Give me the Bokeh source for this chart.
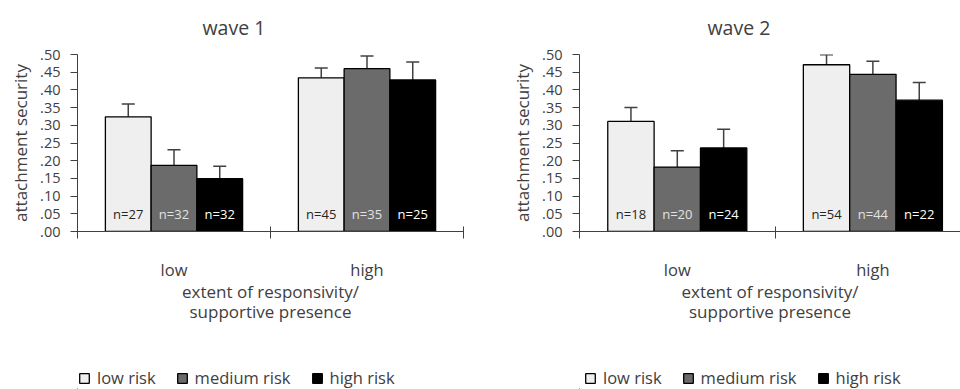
from bokeh.plotting import figure
from bokeh.models import (Range1d, FixedTicker, LinearAxis, ColumnDataSource,
                          Whisker, TeeHead, Legend, LegendItem)
from bokeh.layouts import row, column
from bokeh.embed import file_html
from bokeh.resources import INLINE
from bokeh.core.properties import value

# ---------------- data ----------------
categories = ["low", "high"]                 # extent of responsivity
risk_groups = ["low risk", "medium risk", "high risk"]
wave_titles = ["wave 1", "wave 2"]

# wave 1: mean attachment security per category (low, high)
w1_low_risk = [0.324, 0.434]
w1_medium_risk = [0.187, 0.460]
w1_high_risk = [0.149, 0.428]
# wave 1: upper end of error bars
w1_low_risk_upper = [0.360, 0.462]
w1_medium_risk_upper = [0.231, 0.496]
w1_high_risk_upper = [0.184, 0.479]
# wave 1: group sizes
w1_low_risk_n = [27, 45]
w1_medium_risk_n = [32, 35]
w1_high_risk_n = [32, 25]

# wave 2
w2_low_risk = [0.311, 0.471]
w2_medium_risk = [0.182, 0.444]
w2_high_risk = [0.236, 0.371]
w2_low_risk_upper = [0.350, 0.499]
w2_medium_risk_upper = [0.228, 0.481]
w2_high_risk_upper = [0.289, 0.421]
w2_low_risk_n = [18, 54]
w2_medium_risk_n = [20, 44]
w2_high_risk_n = [24, 22]

ytick_values = [0, 0.05, 0.1, 0.15, 0.2, 0.25, 0.3, 0.35, 0.4, 0.45, 0.5]
ytick_labels = [".00", ".05", ".10", ".15", ".20", ".25", ".30", ".35", ".40", ".45", ".50"]
xlabel = "extent of responsivity/\nsupportive presence"
ylabel = "attachment security"

# ---------------- style ----------------
FONT = "Open Sans"
TXT = "#404040"
fills = ["#efefef", "#6b6b6b", "#000000"]
ncolors = ["#262626", "#e2e2e2", "#ffffff"]
bar_w = 0.237
offsets = [-0.237, 0.0, 0.237]
MAIN_H = 366
LEG_H = 23


def make_panel(title, means, uppers, ns, width, b_left, b_right, x_end,
               title_offset):
    p = figure(width=width, height=MAIN_H, x_range=Range1d(0, x_end),
               y_range=Range1d(0, 0.5), output_backend="svg",
               toolbar_location=None, min_border_left=b_left,
               min_border_right=b_right, min_border_top=54,
               min_border_bottom=MAIN_H - 231)
    p.outline_line_color = None
    p.xgrid.visible = False
    p.ygrid.visible = False

    # title
    p.title.text = title
    p.title.align = "left"
    p.title.vertical_align = "top"
    p.title.offset = title_offset
    p.title.standoff = 24
    p.title.text_font = FONT
    p.title.text_font_size = "19.5px"
    p.title.text_font_style = "normal"
    p.title.text_color = TXT

    # y axis
    ya = p.yaxis[0]
    ya.ticker = FixedTicker(ticks=ytick_values)
    ya.major_label_overrides = {v: l for v, l in zip(ytick_values, ytick_labels)}
    ya.major_tick_out = 7
    ya.major_tick_in = 0
    ya.minor_tick_line_color = None
    ya.major_label_standoff = 10
    ya.major_label_text_font = FONT
    ya.major_label_text_font_size = "14.5px"
    ya.major_label_text_color = TXT
    ya.axis_line_color = "#404040"
    ya.major_tick_line_color = "#404040"
    ya.axis_label = ylabel
    ya.axis_label_text_font = FONT
    ya.axis_label_text_font_size = "17px"
    ya.axis_label_text_font_style = "normal"
    ya.axis_label_text_color = TXT
    ya.axis_label_standoff = 5

    # x axis with crossing ticks at category boundaries
    xa = p.xaxis[0]
    xa.ticker = FixedTicker(ticks=[0, 1, 2])
    xa.major_label_overrides = {0: "", 1: "", 2: ""}
    xa.major_label_text_font_size = "1px"
    xa.major_label_standoff = 0
    xa.major_tick_in = 5
    xa.major_tick_out = 7
    xa.minor_tick_line_color = None
    xa.axis_line_color = "#404040"
    xa.major_tick_line_color = "#404040"

    # category labels + axis title
    xb = LinearAxis(ticker=FixedTicker(ticks=[i + 0.5 for i in range(len(categories))]),
                    major_label_overrides={i + 0.5: c for i, c in enumerate(categories)})
    xb.axis_line_color = None
    xb.major_tick_line_color = None
    xb.minor_tick_line_color = None
    xb.major_tick_out = 0
    xb.major_tick_in = 0
    xb.major_label_standoff = 19
    xb.major_label_text_font = FONT
    xb.major_label_text_font_size = "16.5px"
    xb.major_label_text_color = TXT
    xb.axis_label = xlabel
    xb.axis_label_text_font = FONT
    xb.axis_label_text_font_size = "17px"
    xb.axis_label_text_font_style = "normal"
    xb.axis_label_text_color = TXT
    xb.axis_label_text_line_height = 0.9
    xb.axis_label_standoff = -4
    p.add_layout(xb, "below")

    for k, risk in enumerate(risk_groups):
        xs = [i + 0.5 + offsets[k] for i in range(len(categories))]
        src = ColumnDataSource(dict(x=xs, top=means[k], upper=uppers[k],
                                    n=["n=%d" % v for v in ns[k]]))
        p.vbar(x="x", top="top", width=bar_w, bottom=0, source=src,
               fill_color=fills[k], line_color="#000000", line_width=1.3)
        p.add_layout(Whisker(source=src, base="x", lower="top", upper="upper",
                             dimension="height", line_color="#404040", line_width=1.5,
                             upper_head=TeeHead(size=13, line_color="#404040", line_width=1.5),
                             lower_head=None))
        p.text(x="x", y=0, text="n", source=src, y_offset=-18,
               text_align="center", text_baseline="middle",
               text_font=value(FONT), text_font_size="13px",
               text_color=ncolors[k])
    return p


def make_legend(width, means, legend_x):
    # legend-only strip; its renderers hold the series but lie outside the view
    lf = figure(width=width, height=LEG_H, x_range=Range1d(10, 11), y_range=Range1d(10, 11),
                output_backend="svg", toolbar_location=None,
                x_axis_location=None, y_axis_location=None,
                min_border_left=0, min_border_right=0, min_border_top=0,
                min_border_bottom=0)
    lf.outline_line_color = None
    lf.xgrid.visible = False
    lf.ygrid.visible = False
    items = []
    for k, risk in enumerate(risk_groups):
        xs = [i + 0.5 + offsets[k] for i in range(len(categories))]
        r = lf.vbar(x=xs, top=means[k], width=bar_w, fill_color=fills[k],
                    line_color="#000000", line_width=1.3)
        items.append(LegendItem(label=risk, renderers=[r]))
    legend = Legend(items=items, location=(legend_x, 0), orientation="horizontal",
                    padding=0, margin=0, border_line_color=None,
                    background_fill_alpha=0, glyph_width=12, glyph_height=12,
                    label_standoff=7, spacing=20, label_text_font=FONT,
                    label_text_font_size="16.5px", label_text_color=TXT)
    lf.add_layout(legend)
    return lf


w1_means = [w1_low_risk, w1_medium_risk, w1_high_risk]
w2_means = [w2_low_risk, w2_medium_risk, w2_high_risk]

p1 = make_panel(wave_titles[0], w1_means,
                [w1_low_risk_upper, w1_medium_risk_upper, w1_high_risk_upper],
                [w1_low_risk_n, w1_medium_risk_n, w1_high_risk_n],
                width=480, b_left=77, b_right=17, x_end=2.0,
                title_offset=125)
p2 = make_panel(wave_titles[1], w2_means,
                [w2_low_risk_upper, w2_medium_risk_upper, w2_high_risk_upper],
                [w2_low_risk_n, w2_medium_risk_n, w2_high_risk_n],
                width=480, b_left=99, b_right=0, x_end=1.948,
                title_offset=128)
l1 = make_legend(480, w1_means, 1)
l2 = make_legend(480, w2_means, 5)

layout = row(column(p1, l1, spacing=0), column(p2, l2, spacing=0), spacing=0)
open("out.html", "w").write(file_html(layout, INLINE))
